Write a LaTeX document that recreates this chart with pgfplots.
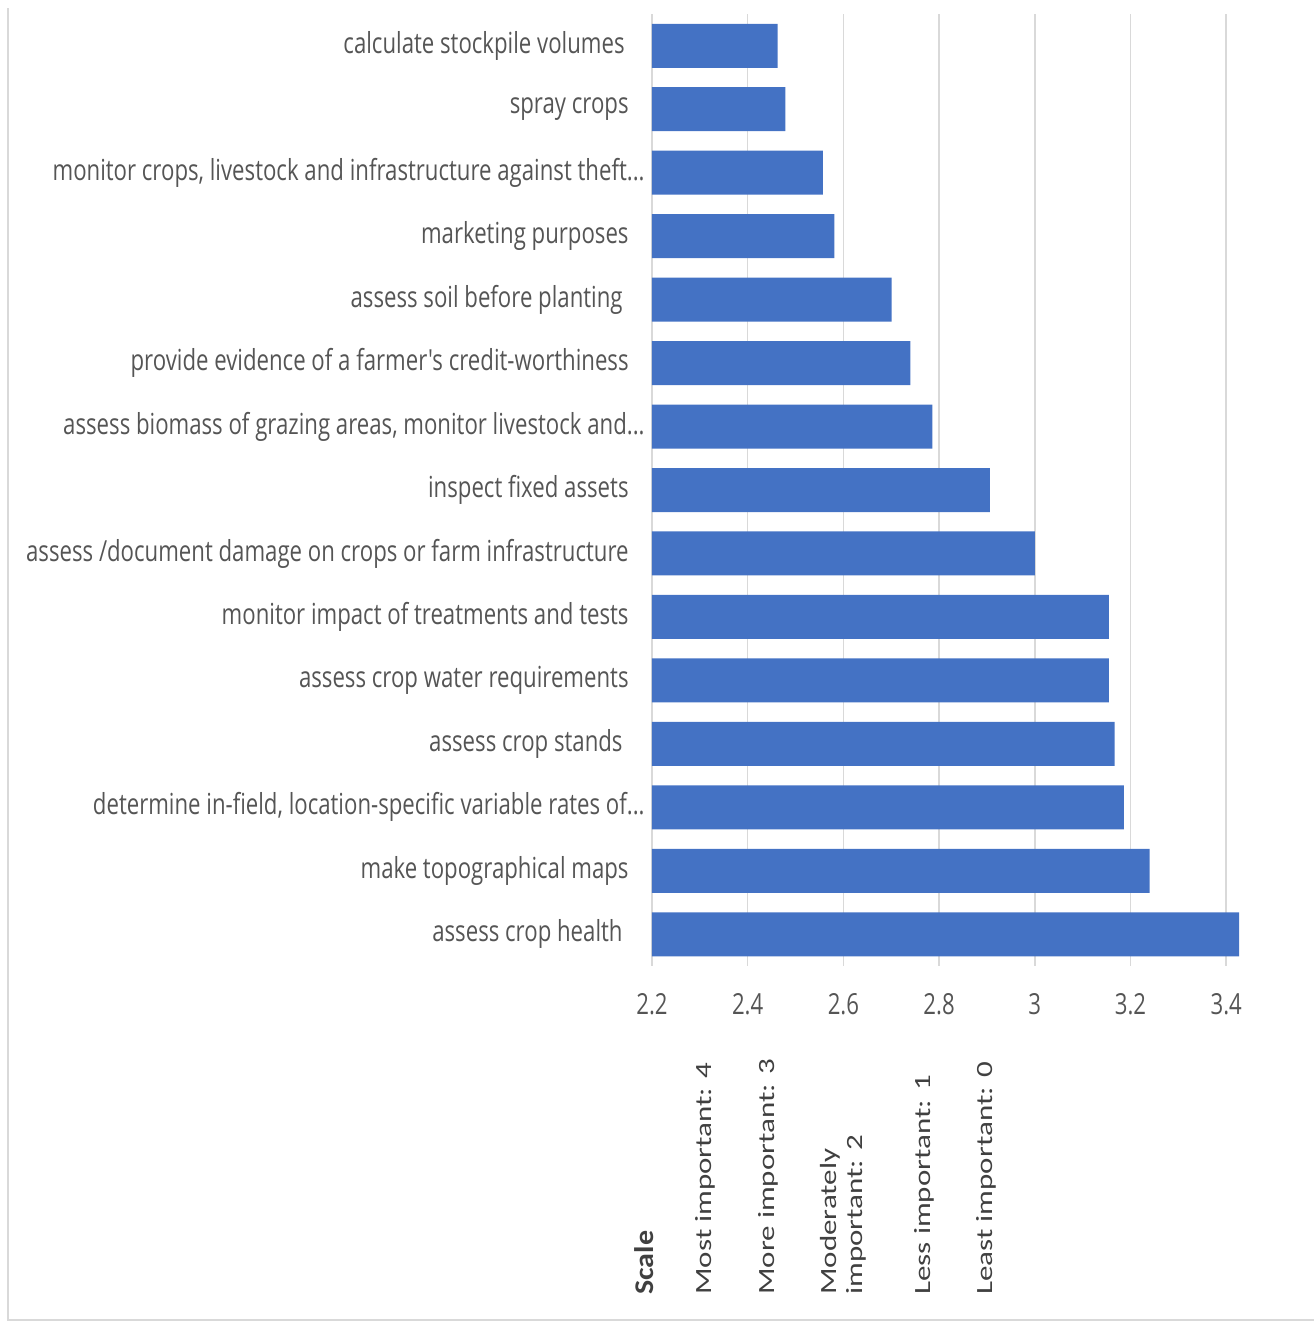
\documentclass[border=0pt]{standalone}
\usepackage{pgfplots}
\pgfplotsset{compat=1.18}
\usepackage{fontspec}
\usepackage{graphicx}
\setmainfont{Open Sans}
\newfontfamily\labelfont[FakeStretch=0.765]{Open Sans}
\newfontfamily\scalefont{Carlito}
\definecolor{barblue}{HTML}{4472C4}
\definecolor{gridgray}{HTML}{D9D9D9}
\definecolor{labgray}{HTML}{555555}
\definecolor{txtgray}{HTML}{404040}
\newcommand\tdots{.\kern0pt.\kern0pt.}
\begin{document}
\begin{tikzpicture}
\useasboundingbox (0,0) rectangle (657pt,-662pt);
\draw[gridgray, line width=0.75pt] (4pt,-4pt) -- (4pt,-660pt) -- (657pt,-660pt);
\begin{axis}[
  at={(326pt,-483pt)}, anchor=south west,
  scale only axis, width=331pt, height=476pt,
  xmin=2.2, xmax=3.5835, ymin=-0.5, ymax=14.5, y dir=reverse,
  xbar, bar width=22pt,
  xtick={2.2,2.4,2.6,2.8,3,3.2,3.4},
  xticklabels={2.2,2.4,2.6,2.8,3,3.2,3.4},
  ytick={0,1,2,3,4,5,6,7,8,9,10,11,12,13,14},
  yticklabels={
    {calculate stockpile volumes\kern2pt},
    {spray crops},
    {monitor crops, livestock and infrastructure against theft\tdots\kern-8pt},
    {marketing purposes},
    {assess soil before planting\kern3pt},
    {provide evidence of a farmer's credit-worthiness},
    {assess biomass of grazing areas, monitor livestock and\tdots\kern-8pt},
    {inspect fixed assets},
    {assess /document damage on crops or farm infrastructure},
    {monitor impact of treatments and tests},
    {assess crop water requirements},
    {assess crop stands\kern3pt},
    {determine in-field, location-specific variable rates of\tdots\kern-8pt},
    {make topographical maps},
    {assess crop health\kern3pt}},
  major tick length=0pt,
  xmajorgrids, major grid style={gridgray, line width=0.75pt},
  axis lines*=left,
  x axis line style={draw=none},
  y axis line style={gridgray, line width=0.75pt},
  xticklabel style={font=\labelfont\fontsize{14.5}{16}\selectfont, text=labgray, anchor=center, inner sep=0pt, yshift=-19pt},
  yticklabel style={font=\labelfont\fontsize{14.5}{17}\selectfont, text=labgray, anchor=east, inner sep=0pt, xshift=-11.5pt},
]
\addplot[fill=barblue, draw=none] coordinates {
  (2.4625,0) (2.479,1) (2.557,2) (2.581,3) (2.701,4)
  (2.740,5) (2.786,6) (2.906,7) (3.000,8) (3.155,9)
  (3.155,10) (3.167,11) (3.186,12) (3.240,13) (3.427,14)};
\end{axis}
\begin{scope}[every node/.style={rotate=90, anchor=base west, inner sep=0pt, text=txtgray, font=\scalefont\fontsize{15.5}{17}\selectfont}]
\node[font=\scalefont\bfseries\fontsize{15}{17}\selectfont] at (326.8pt,-647.5pt) {\scalebox{1}[0.9]{Scale}};
\node at (355.5pt,-647.5pt) {\scalebox{1}[0.75]{Most important: 4}};
\node at (387pt,-647.5pt) {\scalebox{1}[0.75]{More important: 3}};
\node at (418pt,-647.5pt) {\scalebox{1}[0.75]{Moderately}};
\node at (431pt,-647.5pt) {\scalebox{1}[0.75]{important: 2}};
\node at (465pt,-647.5pt) {\scalebox{1}[0.75]{Less important: 1}};
\node at (496pt,-647.5pt) {\scalebox{1}[0.75]{Least important: 0}};
\end{scope}
\end{tikzpicture}
\end{document}
